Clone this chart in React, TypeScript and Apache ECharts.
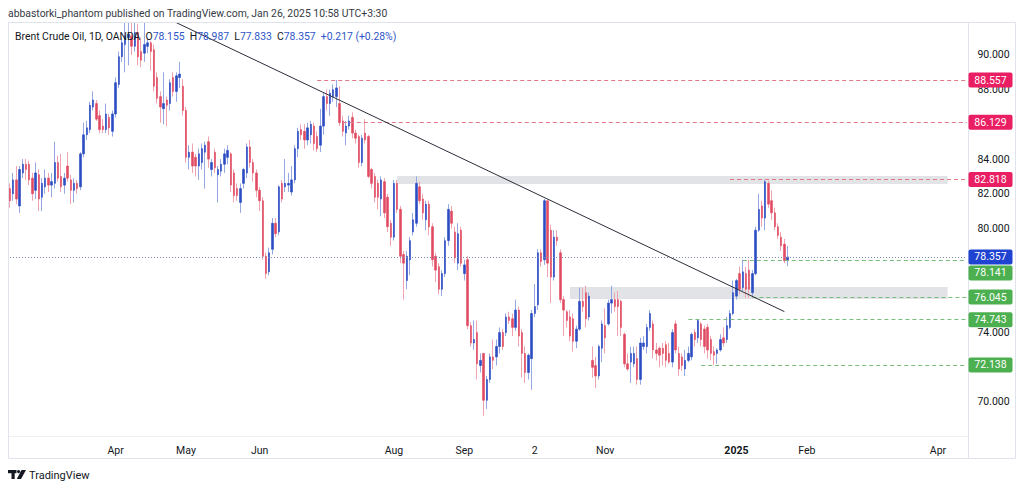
import React, { useEffect, useRef } from "react";
import * as echarts from "echarts";

type OHLC = [number, number, number, number]; // open, close, low, high

const febMar24: OHLC[] = [
  [82.3, 81.6, 81.2, 82.6], [82.0, 82.8, 81.6, 83.2], [82.8, 81.7, 81.4, 83.6], [81.3, 83.4, 80.9, 83.6],
  [83.2, 83.7, 82.9, 84.0], [83.7, 83.4, 82.8, 84.0], [83.7, 82.8, 82.5, 83.9], [82.9, 82.0, 81.6, 83.2],
  [82.2, 83.2, 81.7, 83.8], [83.1, 81.7, 81.0, 83.4], [81.8, 82.6, 81.0, 82.9], [82.4, 82.9, 82.0, 83.4],
  [82.9, 82.5, 82.1, 83.2], [82.5, 82.7, 81.8, 83.2], [82.6, 83.8, 82.3, 85.0], [83.8, 82.9, 82.7, 84.2],
  [83.0, 82.4, 82.1, 84.3], [82.5, 82.9, 82.0, 83.2], [83.6, 82.9, 82.7, 84.4], [82.8, 82.2, 81.4, 83.1],
  [82.2, 82.6, 81.5, 82.9], [82.6, 82.3, 82.0, 82.8], [82.4, 84.3, 82.2, 84.4], [84.3, 85.4, 84.1, 86.1],
  [85.4, 85.8, 85.1, 86.2], [85.7, 87.1, 85.5, 87.3], [87.0, 87.4, 86.8, 87.9], [87.2, 86.3, 86.2, 87.4],
  [86.5, 85.7, 85.5, 86.8], [85.9, 85.7, 85.5, 86.3], [85.7, 86.6, 85.5, 87.2], [86.4, 85.8, 85.4, 86.6],
  [85.6, 86.6, 85.3, 86.8], [86.6, 88.4, 86.4, 88.7], [88.3, 89.9, 88.1, 90.2],
];

const aprMay24: OHLC[] = [
  [89.9, 90.7, 89.6, 91.0], [90.6, 91.1, 89.0, 91.9], [91.0, 91.2, 89.4, 91.9], [91.1, 90.5, 90.0, 91.9],
  [90.5, 91.3, 90.2, 91.9], [91.3, 89.9, 89.4, 91.8], [90.2, 89.7, 89.3, 91.0], [90.1, 90.6, 89.6, 91.9],
  [90.5, 90.7, 90.1, 91.0], [90.7, 90.2, 89.1, 90.8], [90.3, 88.2, 87.9, 90.6], [88.7, 87.5, 87.2, 89.0],
  [87.6, 87.0, 86.1, 87.9], [86.9, 87.2, 86.0, 89.0], [87.4, 87.1, 85.9, 87.6], [87.2, 88.4, 86.8, 88.6],
  [88.7, 87.9, 87.6, 89.0], [87.9, 88.8, 87.3, 89.0], [88.7, 88.9, 88.1, 89.6], [88.2, 86.8, 86.5, 88.6],
  [86.8, 84.1, 83.8, 87.0], [84.1, 84.4, 83.4, 84.8], [84.4, 83.6, 83.2, 84.9], [84.1, 83.6, 83.0, 84.3],
  [83.6, 84.3, 82.8, 84.6], [83.8, 84.6, 83.4, 84.9], [84.4, 84.8, 82.3, 85.0], [85.0, 84.0, 83.5, 85.3],
  [83.4, 83.8, 83.0, 84.0], [84.4, 83.5, 83.2, 84.6], [83.1, 83.4, 81.5, 83.6], [83.3, 83.7, 83.0, 84.0],
  [83.7, 84.3, 83.2, 84.6], [84.1, 84.5, 83.7, 84.8],
];

const mayJul24: OHLC[] = [
  [84.3, 82.5, 82.1, 84.4], [83.2, 81.9, 81.5, 83.4], [82.3, 81.9, 81.6, 82.6], [81.5, 82.3, 80.9, 82.6],
  [82.6, 83.4, 82.3, 83.5], [83.2, 84.7, 82.9, 84.9], [84.7, 83.8, 83.5, 85.1], [83.8, 83.2, 82.7, 84.0],
  [83.2, 82.2, 81.8, 83.4], [82.2, 81.6, 81.0, 82.4], [81.6, 78.4, 78.2, 81.8], [78.4, 77.4, 77.1, 78.6],
  [77.5, 78.6, 77.3, 78.9], [78.8, 80.3, 78.5, 80.6], [80.3, 79.7, 79.5, 80.6], [79.8, 82.4, 79.6, 82.5],
  [82.6, 81.7, 81.5, 82.8], [82.4, 82.6, 82.1, 84.0], [82.5, 82.6, 82.1, 83.2], [82.1, 82.8, 81.9, 83.6],
  [82.8, 84.6, 82.6, 84.8], [84.6, 85.6, 84.1, 85.8], [85.7, 85.4, 85.1, 86.0], [85.6, 85.1, 84.6, 86.0],
  [85.1, 85.8, 84.8, 86.1], [85.4, 86.0, 84.9, 86.2], [85.9, 84.9, 84.5, 86.1], [85.3, 84.6, 84.4, 85.6],
  [84.8, 85.9, 84.4, 86.9], [85.9, 87.6, 85.4, 87.8], [87.6, 87.2, 86.8, 88.0], [87.2, 87.8, 86.5, 88.0],
  [87.6, 88.0, 87.3, 88.3], [87.6, 88.1, 87.0, 88.557], [87.2, 86.1, 85.9, 88.2],
];

const julAug24: OHLC[] = [
  [86.2, 85.6, 85.3, 86.5], [85.5, 85.9, 84.8, 86.2], [85.9, 86.2, 85.7, 86.5], [86.4, 85.5, 85.2, 86.7],
  [85.5, 85.2, 84.9, 85.7], [85.3, 83.8, 83.5, 85.4], [83.8, 85.2, 83.6, 85.4], [85.5, 85.1, 84.9, 86.3],
  [85.3, 83.0, 82.9, 85.4], [83.4, 82.6, 82.3, 83.5], [83.0, 81.8, 81.5, 83.2], [82.6, 81.8, 81.1, 82.8],
  [81.7, 82.8, 80.7, 83.0], [82.7, 80.9, 80.6, 82.9], [81.8, 80.1, 79.8, 82.0], [80.3, 79.5, 79.0, 80.5],
  [79.5, 82.6, 79.3, 82.8], [82.6, 81.1, 80.9, 82.8], [81.1, 78.4, 78.0, 81.3], [78.5, 78.0, 75.9, 78.7],
  [77.0, 78.4, 76.5, 78.7], [78.2, 79.3, 77.3, 79.5], [79.8, 80.5, 79.6, 80.9], [80.3, 82.6, 80.1, 83.0],
  [82.4, 81.6, 81.4, 82.7], [81.7, 80.9, 80.5, 82.0], [80.5, 81.4, 79.9, 81.6], [81.4, 80.1, 79.6, 81.6],
  [80.1, 78.2, 77.8, 80.3], [78.4, 77.6, 76.9, 78.6], [77.8, 76.5, 76.2, 78.0], [76.5, 77.4, 76.1, 77.6],
  [77.4, 79.3, 77.2, 79.5], [79.3, 81.1, 79.0, 81.4], [81.0, 80.3, 80.0, 81.3],
];

const augOct24: OHLC[] = [
  [79.8, 78.3, 78.0, 80.1], [78.0, 79.7, 77.6, 80.3], [79.9, 78.0, 77.8, 80.1], [77.4, 77.9, 77.0, 78.2],
  [78.2, 74.4, 74.2, 78.4], [74.4, 73.4, 73.2, 74.6], [73.4, 73.6, 73.0, 74.7], [74.0, 72.2, 71.3, 74.7],
  [72.1, 72.4, 71.7, 72.8], [72.8, 70.1, 69.2, 72.8], [70.1, 71.3, 69.6, 71.5], [71.3, 72.6, 71.1, 72.8],
  [72.6, 72.4, 71.9, 73.6], [72.6, 73.2, 72.1, 73.6], [73.2, 74.0, 72.8, 74.3], [74.0, 73.2, 73.0, 74.2],
  [74.0, 74.9, 73.8, 75.1], [74.9, 74.7, 74.5, 75.2], [74.8, 74.3, 73.8, 75.1], [74.3, 75.3, 74.1, 75.9],
  [75.3, 73.8, 73.2, 75.5], [74.0, 72.8, 71.4, 74.2], [72.8, 71.7, 71.1, 73.2], [71.7, 72.7, 71.3, 72.8],
  [72.5, 75.1, 70.7, 75.3], [75.1, 75.5, 74.9, 76.8], [75.6, 78.6, 75.3, 78.8], [78.6, 78.1, 77.8, 78.8],
  [78.2, 81.6, 77.9, 81.7], [81.6, 78.0, 77.2, 81.6], [79.9, 77.2, 75.7, 80.2], [77.2, 79.5, 77.0, 79.9],
  [79.5, 79.3, 79.0, 79.9], [78.6, 75.9, 75.7, 78.8], [75.9, 75.3, 73.8, 76.1],
];

const octDec24: OHLC[] = [
  [75.2, 74.7, 74.3, 75.3], [74.9, 73.8, 73.5, 75.3], [74.8, 73.5, 72.9, 75.1], [73.5, 74.2, 73.1, 74.4],
  [74.2, 75.8, 74.1, 76.6], [75.8, 75.5, 75.2, 76.6], [76.3, 74.8, 74.3, 76.7], [74.9, 76.1, 74.7, 76.3],
  [72.4, 72.0, 71.4, 73.2], [72.1, 71.5, 70.8, 72.6], [71.5, 73.2, 71.3, 73.3], [73.1, 74.5, 72.3, 74.7],
  [74.4, 73.7, 72.8, 75.4], [74.5, 75.7, 74.4, 75.9], [75.7, 75.9, 75.1, 76.7], [75.9, 75.5, 75.2, 76.3],
  [75.9, 75.5, 73.8, 76.4], [75.8, 74.3, 73.8, 75.9], [73.9, 72.2, 72.0, 74.0], [72.2, 71.9, 71.8, 72.8],
  [72.3, 72.8, 71.1, 73.2], [72.2, 72.8, 72.0, 73.2], [72.5, 71.3, 71.0, 73.2], [71.3, 73.4, 71.0, 73.7],
  [73.2, 73.4, 73.0, 73.8], [73.2, 74.3, 72.8, 74.5], [74.3, 75.1, 74.1, 75.3], [74.5, 73.0, 72.5, 74.7],
  [73.0, 72.8, 72.4, 73.4], [73.1, 72.7, 72.0, 73.2], [73.1, 72.8, 72.1, 73.4], [73.3, 72.4, 72.0, 73.5],
  [72.8, 72.3, 72.2, 73.4], [72.3, 74.0, 72.0, 74.2], [74.5, 73.0, 72.8, 74.7],
];

const decJan25: OHLC[] = [
  [72.8, 71.9, 71.5, 73.2], [72.6, 72.1, 71.8, 72.8], [71.9, 72.4, 71.5, 73.0], [72.4, 72.8, 72.3, 73.2],
  [72.6, 73.9, 72.4, 74.0], [74.0, 73.6, 73.2, 74.2], [73.7, 74.7, 73.4, 74.743], [74.5, 73.6, 73.2, 74.6],
  [74.2, 73.2, 72.8, 74.4], [74.3, 73.0, 72.5, 74.5], [73.6, 72.8, 72.4, 73.8], [72.9, 72.7, 72.138, 73.2],
  [72.8, 73.0, 72.2, 73.1], [73.0, 73.6, 72.9, 73.9], [73.7, 73.4, 73.2, 74.3], [73.6, 74.4, 73.4, 74.9],
  [74.3, 75.1, 74.2, 75.3], [75.1, 76.3, 75.0, 77.0], [76.1, 77.0, 75.9, 77.1], [77.4, 76.5, 76.2, 77.8],
  [76.6, 77.5, 76.4, 78.2], [77.4, 76.5, 76.0, 77.8], [77.6, 76.5, 76.0, 78.2], [76.3, 77.4, 76.1, 77.6],
  [77.4, 79.9, 77.3, 80.1], [79.9, 81.1, 79.8, 82.0], [81.3, 80.6, 80.1, 81.6], [80.6, 82.7, 79.9, 82.818],
  [82.6, 81.4, 81.2, 82.75], [81.6, 80.9, 80.5, 82.2], [80.9, 80.1, 79.9, 81.2], [80.1, 79.6, 79.4, 80.3],
  [79.5, 79.0, 78.7, 79.8], [79.1, 78.14, 78.0, 79.4], [78.155, 78.357, 77.833, 78.987],
];

const candles: OHLC[] = [...febMar24, ...aprMay24, ...mayJul24, ...julAug24, ...augOct24, ...octDec24, ...decJan25];

const slotCount = 300;
const timeLabels: [number, string][] = [
  [33, "Apr"], [55, "May"], [78, "Jun"], [120, "Aug"], [142, "Sep"], [164, "2"],
  [186, "Nov"], [227, "2025"], [249, "Feb"], [290, "Apr"],
];
const priceTicks = [70, 72, 74, 76, 78, 80, 82, 84, 86, 88, 90];

const redLevels = [
  { price: 88.557, from: 96 },
  { price: 86.129, from: 104 },
  { price: 82.818, from: 225 },
];
const greenLevels = [
  { price: 78.141, from: 229 },
  { price: 76.045, from: 232 },
  { price: 74.743, from: 212 },
  { price: 72.138, from: 216 },
];
const zones = [
  { from: 121, to: 293, top: 83.03, bottom: 82.56 },
  { from: 175, to: 293, top: 76.63, bottom: 75.94 },
];
const trendLine: [number, number][] = [[52, 91.86], [242, 75.21]];

const FONT = "Roboto, 'Liberation Sans', sans-serif";
const UP = "#2c4cc2";
const DN = "#e04b63";
const WICK_UP = "#95a8e2";
const WICK_DN = "#f0a3ae";
const TAG_RED = "#e91e63";
const TAG_GREEN = "#4caf50";
const TAG_BLUE = "#1f43d1";
const LINE_RED = "#e07888";
const LINE_GREEN = "#79bd7d";
const TEXT = "#131722";

export default function App() {
  const ref = useRef<HTMLDivElement>(null);
  useEffect(() => {
    const chart = echarts.init(ref.current!, null, { renderer: "svg" });
    const last = candles[candles.length - 1];
    const prev = candles[candles.length - 2];
    const lastClose = last[1];
    const change = lastClose - prev[1];
    const pct = (change / prev[1]) * 100;
    const labelMap = new Map(timeLabels);
    const slots = Array.from({ length: slotCount }, (_, i) => String(i));
    const lastSlot = slotCount - 1;

    const markLines: any[] = [];
    redLevels.forEach((l) =>
      markLines.push([
        { coord: [l.from, l.price], lineStyle: { color: LINE_RED, type: [4, 3], width: 1 } },
        { coord: [lastSlot, l.price] },
      ])
    );
    greenLevels.forEach((l) =>
      markLines.push([
        { coord: [l.from, l.price], lineStyle: { color: LINE_GREEN, type: [4, 3], width: 1 } },
        { coord: [lastSlot, l.price] },
      ])
    );
    markLines.push([
      { coord: [0, lastClose], lineStyle: { color: "#7d88aa", type: [1, 2], width: 1 } },
      { coord: [lastSlot, lastClose] },
    ]);
    markLines.push([
      { coord: trendLine[0], lineStyle: { color: "#2a2e39", type: "solid", width: 1 } },
      { coord: trendLine[1] },
    ]);

    const yLabelStyle = { margin: 9, color: TEXT, fontSize: 10.5, fontFamily: FONT };

    chart.setOption({
      animation: false,
      backgroundColor: "#ffffff",
      textStyle: { fontFamily: FONT },
      grid: { left: 8.4, top: 22, width: 960, height: 414.7 },
      xAxis: {
        type: "category",
        data: slots,
        boundaryGap: true,
        axisLine: { show: true, lineStyle: { color: "#eef0f4" } },
        axisTick: { show: false },
        splitLine: { show: false },
        axisLabel: {
          interval: 0,
          margin: 8,
          color: TEXT,
          fontSize: 10.5,
          fontFamily: FONT,
          formatter: (_v: string, i: number) => {
            const t = labelMap.get(i);
            if (!t) return "";
            return t === "2025" ? `{b|${t}}` : t;
          },
          rich: { b: { fontWeight: "bold", fontSize: 10.5, color: TEXT, fontFamily: FONT } },
        },
      },
      yAxis: {
        type: "value",
        position: "right",
        min: 68,
        max: 91.9,
        interval: 2,
        axisLine: { show: false },
        axisTick: { show: false },
        splitLine: { show: false },
        axisLabel: {
          ...yLabelStyle,
          formatter: (v: number) => (priceTicks.includes(v) ? v.toFixed(3) : ""),
        },
      },
      series: [
        {
          name: "wick",
          type: "candlestick",
          data: candles.map((c) => [c[0], c[1], c[2], c[3]]),
          barWidth: 1,
          silent: true,
          clip: true,
          z: 2,
          itemStyle: { color: WICK_UP, color0: WICK_DN, borderColor: WICK_UP, borderColor0: WICK_DN, borderWidth: 1 },
        },
        {
          name: "body",
          type: "candlestick",
          data: candles.map((c) => [c[0], c[1], Math.min(c[0], c[1]), Math.max(c[0], c[1])]),
          barWidth: 2,
          silent: true,
          clip: true,
          z: 3,
          itemStyle: { color: UP, color0: DN, borderColor: UP, borderColor0: DN, borderWidth: 0.6 },
        },
        {
          name: "annotations",
          type: "line",
          data: [],
          silent: true,
          z: 4,
          markArea: {
            silent: true,
            itemStyle: { color: "rgba(190,193,200,0.45)" },
            data: zones.map((z) => [{ coord: [z.from, z.top] }, { coord: [z.to, z.bottom] }]),
          },
          markLine: {
            silent: true,
            symbol: ["none", "none"],
            label: { show: false },
            data: markLines,
          },
        },
      ],
    });

    // price tags on the right scale
    const tagDefs = [
      ...redLevels.map((l) => ({ price: l.price, color: TAG_RED })),
      { price: lastClose, color: TAG_BLUE },
      ...greenLevels.map((l) => ({ price: l.price, color: TAG_GREEN })),
    ].sort((a, b) => b.price - a.price);
    let prevY = -100;
    const tagEls: any[] = [];
    const tagYs: number[] = [];
    tagDefs.forEach((t) => {
      let y = chart.convertToPixel({ yAxisIndex: 0 }, t.price) as number;
      if (y - prevY < 16) y = prevY + 16;
      prevY = y;
      tagYs.push(y);
      tagEls.push({
        type: "rect",
        z: 100,
        shape: { x: 968.5, y: y - 7.5, width: 44, height: 15, r: 2 },
        style: { fill: t.color },
      });
      tagEls.push({
        type: "text",
        z: 101,
        x: 990.5,
        y: y,
        style: {
          text: t.price.toFixed(3),
          fill: "#ffffff",
          fontSize: 10.5,
          fontFamily: FONT,
          align: "center",
          verticalAlign: "middle",
        },
      });
    });

    // scale labels hidden under a price tag (as the trading platform does)
    const shownTicks = priceTicks.filter((v) => {
      const py = chart.convertToPixel({ yAxisIndex: 0 }, v) as number;
      return tagYs.every((ty) => Math.abs(ty - py) >= 9);
    });

    const legend =
      `{t|Brent Crude Oil, 1D, OANDA}  {k|O}{v|${last[0].toFixed(3)}}  {k|H}{v|${last[3].toFixed(3)}}  ` +
      `{k|L}{v|${last[2].toFixed(3)}}  {k|C}{v|${lastClose.toFixed(3)}}  ` +
      `{v|${change >= 0 ? "+" : ""}${change.toFixed(3)} (${pct >= 0 ? "+" : ""}${pct.toFixed(2)}%)}`;

    chart.setOption({
      yAxis: {
        axisLabel: {
          ...yLabelStyle,
          formatter: (v: number) => (shownTicks.includes(v) ? v.toFixed(3) : ""),
        },
      },
      graphic: [
        {
          type: "rect",
          z: 50,
          shape: { x: 8.5, y: 22.5, width: 1007, height: 436 },
          style: { fill: "none", stroke: "#e0e3eb", lineWidth: 1 },
        },
        {
          type: "line",
          z: 50,
          shape: { x1: 968.5, y1: 22, x2: 968.5, y2: 458.5 },
          style: { stroke: "#e0e3eb", lineWidth: 1 },
        },
        {
          type: "text",
          z: 60,
          x: 8,
          y: 13,
          style: {
            text: "abbastorki_phantom published on TradingView.com, Jan 26, 2025 10:58 UTC+3:30",
            fill: "#363a45",
            fontSize: 10.4,
            fontFamily: FONT,
            verticalAlign: "middle",
          },
        },
        {
          type: "text",
          z: 60,
          x: 15,
          y: 36,
          style: {
            text: legend,
            fontSize: 10.4,
            fontFamily: FONT,
            verticalAlign: "middle",
            rich: {
              t: { fill: TEXT, fontSize: 10.4, fontFamily: FONT },
              k: { fill: TEXT, fontSize: 10.4, fontFamily: FONT },
              v: { fill: "#2f55c8", fontSize: 10.4, fontFamily: FONT },
            },
          },
        },
        // TradingView logo
        { type: "rect", z: 60, shape: { x: 8, y: 470, width: 8.5, height: 3.2 }, style: { fill: TEXT } },
        { type: "rect", z: 60, shape: { x: 11.5, y: 470, width: 3.2, height: 9 }, style: { fill: TEXT } },
        { type: "circle", z: 60, shape: { cx: 18.6, cy: 471.6, r: 1.6 }, style: { fill: TEXT } },
        {
          type: "polygon",
          z: 60,
          shape: { points: [[21.5, 470], [26, 470], [21, 479], [16.8, 479]] },
          style: { fill: TEXT },
        },
        {
          type: "text",
          z: 60,
          x: 29,
          y: 475,
          style: {
            text: "TradingView",
            fill: TEXT,
            fontSize: 11,
            fontWeight: "normal",
            fontFamily: FONT,
            verticalAlign: "middle",
          },
        },
        ...tagEls,
      ],
    });

    return () => chart.dispose();
  }, []);

  return (
    <div
      ref={ref}
      style={{ position: "fixed", left: 0, top: 0, width: 1024, height: 490, background: "#ffffff" }}
    />
  );
}
